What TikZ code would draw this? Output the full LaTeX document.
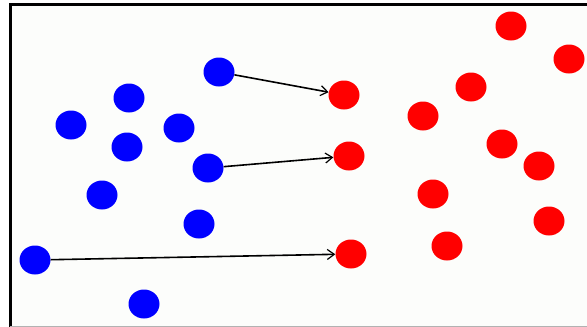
\documentclass[tikz,border=0pt]{standalone}
\usetikzlibrary{shapes.geometric,arrows.meta}
\definecolor{bg}{HTML}{FCFDFB}
\definecolor{dotblue}{HTML}{0000FF}
\definecolor{dotred}{HTML}{FF0000}
\tikzset{
  dot/.style={ellipse,inner sep=0pt,minimum width=31pt,minimum height=29pt,draw=none},
  bdot/.style={dot,fill=dotblue},
  rdot/.style={dot,fill=dotred},
  link/.style={line width=1.6pt,black,-{Straight Barb[length=7pt,width=10pt,line width=1.2pt]}}
}
\begin{document}
\begin{tikzpicture}[x=1pt,y=-1pt]
\useasboundingbox (0,0) rectangle (587,327);
\fill[white] (0,0) rectangle (587,327);
\fill[bg] (10,4) rectangle (587,326);
\draw[line width=3pt,black] (587,4.3) -- (10.3,4.3) -- (10.3,327);
\draw[line width=1pt,gray!60] (10,326) -- (587,326);
% blue dots
\node[bdot] (b1) at (219,72) {};
\node[bdot] (b2) at (129,98) {};
\node[bdot] (b3) at (71,125) {};
\node[bdot] (b4) at (179,128) {};
\node[bdot] (b5) at (127,147) {};
\node[bdot] (b6) at (208,168) {};
\node[bdot] (b7) at (102,195) {};
\node[bdot] (b8) at (199,224) {};
\node[bdot] (b9) at (35,260) {};
\node[bdot] (b10) at (144,304) {};
% red dots
\node[rdot] (r1) at (344,95) {};
\node[rdot] (r2) at (349,156) {};
\node[rdot] (r3) at (351,254) {};
\node[rdot] (r4) at (511,26) {};
\node[rdot] (r5) at (569,59) {};
\node[rdot] (r6) at (471,87) {};
\node[rdot] (r7) at (423,116) {};
\node[rdot] (r8) at (502,144) {};
\node[rdot] (r9) at (539,166) {};
\node[rdot] (r10) at (433,194) {};
\node[rdot] (r11) at (549,221) {};
\node[rdot] (r12) at (447,246) {};
% links
\draw[link] (b1) -- (r1);
\draw[link] (b6) -- (r2);
\draw[link] (b9) -- (r3);
\end{tikzpicture}
\end{document}
